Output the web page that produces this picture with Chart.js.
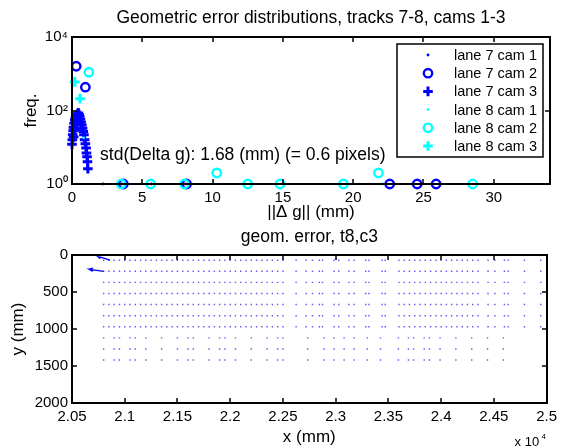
<!DOCTYPE html>
<html>
<head>
<meta charset="utf-8">
<script src="https://cdn.jsdelivr.net/npm/chart.js@4.4.1/dist/chart.umd.min.js"></script>
<style>
  body { margin: 0; background: #fff; }
  #wrap { position: relative; width: 562px; height: 448px; }
  canvas { position: absolute; left: 0; }
</style>
</head>
<body>
<div id="wrap">
  <canvas id="distChart" width="562" height="224" style="top:0"></canvas>
  <canvas id="quiverChart" width="562" height="224" style="top:224px"></canvas>
</div>
<script>
// ---- top plot: error histograms (x = ||dg|| mm, y = freq.) ----
const lane7cam1 = [[2.2, 1], [3.55, 1], [5.65, 1], [8.05, 1]];
const lane7cam2 = [[0.3, 1600], [0.95, 430], [3.65, 1], [8.15, 1], [22.6, 1], [24.55, 1], [25.9, 1]];
const lane7cam3 = [
  [0.0, 12], [0.02, 16], [0.05, 22], [0.08, 28], [0.1, 35], [0.12, 19], [0.15, 45],
  [0.2, 55], [0.2, 30], [0.25, 65], [0.3, 72], [0.3, 42], [0.35, 60], [0.4, 80],
  [0.45, 86], [0.5, 78], [0.55, 70], [0.6, 58], [0.65, 48], [0.7, 40], [0.75, 33],
  [0.8, 27], [0.85, 22], [0.9, 16], [0.95, 12.5], [1.0, 9.5], [1.03, 7], [1.07, 5.5],
  [1.1, 4], [1.13, 2.6]
];
const lane8cam1 = [[0.83, 18], [22.1, 1]];
const lane8cam2 = [[1.2, 1100], [3.5, 1], [5.6, 1], [8.0, 1], [10.3, 2], [12.5, 1], [14.8, 1], [19.3, 1], [21.8, 2], [28.5, 1]];
const lane8cam3 = [[0.2, 600], [0.57, 210]];

const seriesNames = ['lane 7 cam 1', 'lane 7 cam 2', 'lane 7 cam 3', 'lane 8 cam 1', 'lane 8 cam 2', 'lane 8 cam 3'];
const xTicksTop = [0, 5, 10, 15, 20, 25, 30];
const yTicksTop = [1, 100, 10000];
const yTickLabelsTop = ['10\u2070', '10\u00B2', '10\u2074'];

// ---- bottom plot: quiver of geom. error, t8,c3 ----
const rowY = [70, 220, 370, 520, 670, 820, 970, 1120, 1270, 1420];
const colsDense = [
  20800, 20850, 20900, 20950, 21000, 21050, 21100, 21150, 21200, 21250, 21300, 21350,
  21400, 21450, 21500, 21550, 21600, 21650, 21700, 21750, 21800, 21850, 21900, 21950,
  22000, 22050, 22100, 22150, 22200, 22250, 22300, 22350, 22400, 22450, 22500, 22625,
  22720, 22780, 22845, 22875, 22985, 23030, 23125, 23175, 23285, 23315, 23440, 23470,
  23600, 23650, 23700, 23750, 23800, 23850, 23900, 23950, 24000, 24050, 24100, 24150,
  24200, 24250, 24300, 24350, 24445, 24510, 24600, 24635, 24790, 24945
];
const colsSparse = [
  20800, 20900, 20950, 21050, 21100, 21200, 21350, 21500, 21600, 21650, 21800, 21900,
  21950, 22050, 22200, 22350, 22450, 22500, 22735, 22890, 22985, 23080, 23175, 23300,
  23425, 23595, 23690, 23740, 23840, 23890, 23990, 24140, 24290, 24440, 24590
];
const bigArrow1 = [[20860, 70], [20740, 15], [20769, 49], [20740, 15], [20777, 4]];
const bigArrow2 = [[20800, 220], [20663, 193], [20695, 222], [20663, 193], [20699, 177]];
const xTicksBottom = [20500, 21000, 21500, 22000, 22500, 23000, 23500, 24000, 24500, 25000];
const xTickLabelsBottom = ['2.05', '2.1', '2.15', '2.2', '2.25', '2.3', '2.35', '2.4', '2.45', '2.5'];
const yTicksBottom = [0, 500, 1000, 1500, 2000];

const FONT = "'Liberation Sans', Arial, Helvetica, sans-serif";
Chart.defaults.font.family = FONT;
Chart.defaults.font.size = 15;
Chart.defaults.color = '#000';
Chart.defaults.animation = false;

const BLUE = 'rgb(0,0,255)';
const CYAN = 'rgb(0,255,255)';
const toXY = arr => arr.map(p => ({ x: p[0], y: p[1] }));

// matlab style box with inward ticks
const matlabAxes = {
  id: 'matlabAxes',
  afterDatasetsDraw(chart) {
    const { ctx, chartArea: a, scales: { x, y } } = chart;
    const L = Math.round(a.left), R = Math.round(a.right);
    const T = Math.round(a.top), B = Math.round(a.bottom);
    ctx.save();
    ctx.strokeStyle = '#000';
    ctx.lineWidth = 1.5;
    ctx.beginPath();
    x.ticks.forEach(t => {
      const px = Math.round(x.getPixelForValue(t.value));
      ctx.moveTo(px, B); ctx.lineTo(px, B - 5);
      ctx.moveTo(px, T); ctx.lineTo(px, T + 5);
    });
    y.ticks.forEach(t => {
      const py = Math.round(y.getPixelForValue(t.value));
      ctx.moveTo(L, py); ctx.lineTo(L + 5, py);
      ctx.moveTo(R, py); ctx.lineTo(R - 5, py);
    });
    ctx.stroke();
    ctx.lineWidth = 2;
    ctx.strokeRect(L, T, R - L, B - T);
    ctx.restore();
  }
};

// legend drawn inside the axes (top right)
const insideLegend = {
  id: 'insideLegend',
  afterDraw(chart) {
    const { ctx, chartArea: a } = chart;
    const w = 146, h = 113;
    const left = Math.round(a.right - 7 - w), top = Math.round(a.top + 7);
    ctx.save();
    ctx.fillStyle = '#fff';
    ctx.fillRect(left, top, w, h);
    ctx.strokeStyle = '#000';
    ctx.lineWidth = 1.5;
    ctx.strokeRect(left, top, w, h);
    ctx.font = '14.5px ' + FONT;
    ctx.textBaseline = 'middle';
    chart.data.datasets.forEach((ds, i) => {
      const cy = top + 11 + i * 18.2;
      ctx.strokeStyle = ds.borderColor;
      ctx.fillStyle = ds.backgroundColor;
      ctx.lineWidth = ds.borderWidth;
      Chart.helpers.drawPoint(ctx, { pointStyle: ds.pointStyle, radius: ds.pointRadius, borderWidth: ds.borderWidth, rotation: 0 }, left + 31, cy);
      ctx.fillStyle = '#000';
      ctx.fillText(ds.label, left + 57, cy + 1);
    });
    ctx.restore();
  }
};

// annotation text in data coordinates
const stdNote = {
  id: 'stdNote',
  afterDraw(chart) {
    const { ctx, scales: { x, y } } = chart;
    ctx.save();
    ctx.font = '17.5px ' + FONT;
    ctx.fillStyle = '#000';
    ctx.textBaseline = 'middle';
    ctx.fillText('std(Delta g): 1.68 (mm) (= 0.6 pixels)', x.getPixelForValue(2.0), y.getPixelForValue(6.2));
    ctx.restore();
  }
};

const styles = [
  { c: BLUE, s: 'circle', r: 1.4, bw: 0, fill: true },
  { c: BLUE, s: 'circle', r: 4.2, bw: 2.4, fill: false },
  { c: BLUE, s: 'cross', r: 4.8, bw: 3, fill: false },
  { c: CYAN, s: 'circle', r: 1.4, bw: 0, fill: true },
  { c: CYAN, s: 'circle', r: 4.2, bw: 2.4, fill: false },
  { c: CYAN, s: 'cross', r: 4.8, bw: 3, fill: false }
];
const topSeries = [lane7cam1, lane7cam2, lane7cam3, lane8cam1, lane8cam2, lane8cam3];

new Chart(document.getElementById('distChart'), {
  type: 'scatter',
  data: {
    datasets: topSeries.map((d, i) => ({
      label: seriesNames[i],
      data: toXY(d),
      pointStyle: styles[i].s,
      pointRadius: styles[i].r,
      pointHoverRadius: styles[i].r,
      borderWidth: styles[i].bw,
      borderColor: styles[i].c,
      backgroundColor: styles[i].fill ? styles[i].c : 'rgba(0,0,0,0)',
      order: 6 - i,
      clip: false
    }))
  },
  options: {
    responsive: false,
    layout: { padding: { left: 0, right: 12, top: 0, bottom: 0 } },
    plugins: {
      legend: { display: false },
      tooltip: { enabled: false },
      title: {
        display: true,
        fullSize: false,
        text: 'Geometric error distributions, tracks 7-8, cams 1-3',
        font: { size: 17.5, weight: 'normal' },
        padding: { top: 7.5, bottom: 8.5 }
      }
    },
    scales: {
      x: {
        type: 'linear', min: 0, max: 34,
        grid: { display: false, drawTicks: false },
        border: { display: false },
        afterBuildTicks: s => { s.ticks = xTicksTop.map(v => ({ value: v })); },
        afterFit: s => { s.height = 40; },
        ticks: { padding: 5, maxRotation: 0 },
        title: { display: true, text: '||\u0394 g|| (mm)', font: { size: 17 }, padding: { top: 0, bottom: 1.8 } }
      },
      y: {
        type: 'logarithmic', min: 1, max: 10000,
        grid: { display: false, drawTicks: false },
        border: { display: false },
        afterBuildTicks: s => { s.ticks = yTicksTop.map(v => ({ value: v })); },
        afterFit: s => { s.width = 72; },
        ticks: { padding: 4, callback: (v) => yTickLabelsTop[yTicksTop.indexOf(v)] },
        title: { display: true, text: 'freq.', font: { size: 17 }, padding: { top: 20.8, bottom: 0 } }
      }
    }
  },
  plugins: [matlabAxes, stdNote, insideLegend]
});

// quiver grid points
const quiverPts = [];
rowY.forEach((yv, r) => {
  (r < 7 ? colsDense : colsSparse).forEach(xv => quiverPts.push({ x: xv, y: yv }));
});

const xNote = {
  id: 'xNote',
  afterDraw(chart) {
    const { ctx, chartArea: a } = chart;
    ctx.save();
    ctx.fillStyle = '#000';
    ctx.textBaseline = 'alphabetic';
    ctx.font = '13px ' + FONT;
    ctx.fillText('x 10', a.right - 32, 222);
    ctx.font = '8px ' + FONT;
    ctx.fillText('4', a.right - 5, 215);
    ctx.restore();
  }
};

new Chart(document.getElementById('quiverChart'), {
  type: 'scatter',
  data: {
    datasets: [
      {
        label: 'quiver',
        data: quiverPts,
        pointStyle: 'rect',
        pointRadius: 1,
        borderWidth: 0,
        backgroundColor: 'rgba(20,20,255,0.7)'
      },
      {
        label: 'arrow1',
        data: toXY(bigArrow1),
        showLine: true,
        pointRadius: 0,
        borderWidth: 1.3,
        borderColor: BLUE
      },
      {
        label: 'arrow2',
        data: toXY(bigArrow2),
        showLine: true,
        pointRadius: 0,
        borderWidth: 1.3,
        borderColor: BLUE
      }
    ]
  },
  options: {
    responsive: false,
    layout: { padding: { left: 0, right: 12, top: 0, bottom: 0 } },
    plugins: {
      legend: { display: false },
      tooltip: { enabled: false },
      title: {
        display: true,
        fullSize: false,
        text: 'geom. error, t8,c3',
        font: { size: 17.5, weight: 'normal' },
        padding: { top: 2.5, bottom: 7.5 }
      }
    },
    scales: {
      x: {
        type: 'linear', min: 20500, max: 25000,
        grid: { display: false, drawTicks: false },
        border: { display: false },
        afterBuildTicks: s => { s.ticks = xTicksBottom.map(v => ({ value: v })); },
        afterFit: s => { s.height = 45; },
        ticks: { padding: 5, maxRotation: 0, autoSkip: false, callback: (v) => xTickLabelsBottom[xTicksBottom.indexOf(v)] },
        title: { display: true, text: 'x (mm)', font: { size: 17 }, padding: { top: 0, bottom: 0.8 } }
      },
      y: {
        type: 'linear', min: 0, max: 2000, reverse: true,
        grid: { display: false, drawTicks: false },
        border: { display: false },
        afterBuildTicks: s => { s.ticks = yTicksBottom.map(v => ({ value: v })); },
        afterFit: s => { s.width = 72; },
        ticks: { padding: 4, callback: (v) => String(v) },
        title: { display: true, text: 'y (mm)', font: { size: 17 }, padding: { top: 7.8, bottom: 0 } }
      }
    }
  },
  plugins: [matlabAxes, xNote]
});
</script>
</body>
</html>
